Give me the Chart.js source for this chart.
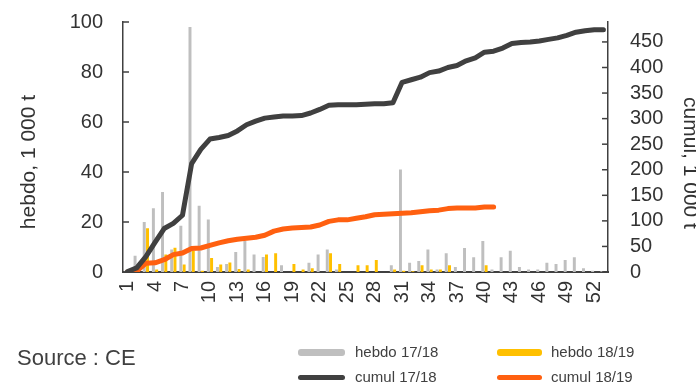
<!DOCTYPE html>
<html lang="fr">
  <head>
    <meta charset="UTF-8" />
    <title>hebdo / cumul</title>
    <script src="https://cdn.jsdelivr.net/npm/chart.js"></script>
    <style>
      html, body { margin: 0; padding: 0; background: #fff; overflow: hidden; }
      #wrap { position: relative; width: 696px; height: 382px; font-family: "Liberation Sans", Arial, sans-serif; color: #404040; }
      #wrap canvas { position: absolute; left: 0; top: 0; }
      .source { position: absolute; left: 17px; top: 346px; font-size: 22px; line-height: 24px; }
      .leg { position: absolute; font-size: 15px; line-height: 16px; }
      .sw { position: absolute; border-radius: 3px; }
    </style>
  </head>
  <body>
    <div id="wrap">
      <canvas id="chart" width="696" height="382"></canvas>
      <div class="source">Source : CE</div>
      <div class="sw" style="left:298px; top:349px; width:47px; height:7px; background:#bfbfbf"></div>
      <div class="leg" style="left:355px; top:344px">hebdo 17/18</div>
      <div class="sw" style="left:497px; top:349px; width:45px; height:7px; background:#ffc000"></div>
      <div class="leg" style="left:551px; top:344px">hebdo 18/19</div>
      <div class="sw" style="left:298px; top:375px; width:47px; height:5px; background:#404040"></div>
      <div class="leg" style="left:355px; top:369px">cumul 17/18</div>
      <div class="sw" style="left:497px; top:375px; width:45px; height:5px; background:#ff6010"></div>
      <div class="leg" style="left:551px; top:369px">cumul 18/19</div>
    </div>

    <script>
      // weeks of the campaign
      const weeks = [1, 2, 3, 4, 5, 6, 7, 8, 9, 10, 11, 12, 13, 14, 15, 16, 17, 18, 19, 20,
        21, 22, 23, 24, 25, 26, 27, 28, 29, 30, 31, 32, 33, 34, 35, 36, 37, 38, 39, 40,
        41, 42, 43, 44, 45, 46, 47, 48, 49, 50, 51, 52, 53];

      // weekly volumes, 1 000 t (left axis)
      const hebdo1718 = [0.5, 6.5, 20, 25.5, 32, 9, 18.5, 98, 26.5, 21, 2, 3.2, 8, 12.4, 7, 6,
        0, 2.7, 0, 0, 3.7, 7, 9, 1, 0, 0, 0, 0, 0, 2.7, 41, 3.7, 4.4, 9, 1, 7.5, 2, 9.6,
        5.9, 12.4, 1, 5.9, 8.5, 2, 1, 1, 3.7, 3.2, 4.8, 5.9, 1.5, 0.5, 0.3];
      const hebdo1819 = [0.5, 0.5, 17.5, 1, 7, 9.7, 3, 8.4, 0.5, 5.6, 3, 3.8, 1.2, 1, 0, 7,
        7.5, 0, 3.2, 1, 1.5, 0, 7.5, 3.2, 0, 2.7, 2.7, 4.8, 0, 1, 0.5, 0.3, 2.7, 1, 1, 2.7,
        0, 0, 0, 2.7, 0];

      // cumulated volumes, 1 000 t (right axis)
      const cumul1718 = [1, 8, 30, 58, 85, 95, 111, 212, 240, 260, 263, 267, 276, 288, 295,
        301, 303, 305, 305, 306, 311, 318, 326, 327, 327, 327, 328, 329, 329, 331, 371, 376,
        381, 390, 393, 400, 404, 413, 419, 430, 432, 438, 447, 449, 450, 452, 455, 458, 463,
        469, 472, 474, 474];
      const cumul1819 = [0, 2, 17, 18, 24, 34, 37, 46, 47, 52, 57, 61, 64, 66, 68, 72, 80,
        84, 86, 87, 88, 92, 99, 102, 102, 105, 108, 112, 113, 114, 115, 116, 118, 120, 121,
        124, 125, 125, 125, 127, 127];

      const leftTicks = [0, 20, 40, 60, 80, 100];
      const rightTicks = [0, 50, 100, 150, 200, 250, 300, 350, 400, 450];
      const leftTitle = "hebdo, 1 000 t";
      const rightTitle = "cumul, 1 000 t";

      const axisColor = "#404040";
      const family = "'Liberation Sans', Arial, sans-serif";
      const font = { family: family, size: 20 };

      // inward tick marks on both value axes + the two axis titles
      const axisExtras = {
        id: "axisExtras",
        afterDraw(chart) {
          const ctx = chart.ctx;
          const y = chart.scales.y, y1 = chart.scales.y1;
          ctx.save();
          ctx.strokeStyle = axisColor;
          ctx.lineWidth = 1.5;
          leftTicks.forEach(v => {
            const py = y.getPixelForValue(v);
            ctx.beginPath();
            ctx.moveTo(y.right, py);
            ctx.lineTo(y.right + 6, py);
            ctx.stroke();
          });
          rightTicks.forEach(v => {
            const py = y1.getPixelForValue(v);
            ctx.beginPath();
            ctx.moveTo(y1.left - 6, py);
            ctx.lineTo(y1.left, py);
            ctx.stroke();
          });

          ctx.fillStyle = "#333";
          ctx.font = "21px " + family;
          ctx.textAlign = "center";
          ctx.textBaseline = "middle";
          ctx.save();
          ctx.translate(29, 162);
          ctx.rotate(-Math.PI / 2);
          ctx.fillText(leftTitle, 0, 0);
          ctx.restore();
          ctx.save();
          ctx.translate(690, 163);
          ctx.rotate(Math.PI / 2);
          ctx.fillText(rightTitle, 0, 0);
          ctx.restore();
          ctx.restore();
        }
      };

      // fixed box sizes so the plot area sits where it does in the original
      function fixV(width) {
        return s => { s.width = width; s.paddingTop = 0; s.paddingBottom = 0; };
      }

      new Chart(document.getElementById("chart"), {
        data: {
          labels: weeks,
          datasets: [
            {
              type: "line",
              label: "cumul 17/18",
              data: cumul1718,
              yAxisID: "y1",
              borderColor: "#404040",
              borderWidth: 5,
              borderCapStyle: "round",
              borderJoinStyle: "round",
              pointRadius: 0,
              tension: 0,
              order: 0
            },
            {
              type: "line",
              label: "cumul 18/19",
              data: cumul1819,
              yAxisID: "y1",
              borderColor: "#ff6010",
              borderWidth: 5,
              borderCapStyle: "round",
              borderJoinStyle: "round",
              pointRadius: 0,
              tension: 0,
              order: 0
            },
            {
              type: "bar",
              label: "hebdo 17/18",
              data: hebdo1718,
              yAxisID: "y",
              backgroundColor: "#bfbfbf",
              categoryPercentage: 0.72,
              barPercentage: 0.9,
              order: 1
            },
            {
              type: "bar",
              label: "hebdo 18/19",
              data: hebdo1819,
              yAxisID: "y",
              backgroundColor: "#ffc000",
              categoryPercentage: 0.72,
              barPercentage: 0.9,
              order: 1
            }
          ]
        },
        options: {
          responsive: false,
          animation: false,
          layout: { padding: { top: 22, left: 0, right: 0, bottom: 0 } },
          plugins: {
            legend: { display: false },
            tooltip: { enabled: false }
          },
          scales: {
            x: {
              offset: true,
              grid: { display: false, drawTicks: false },
              border: { color: axisColor, width: 2 },
              ticks: {
                autoSkip: false,
                minRotation: 90,
                maxRotation: 90,
                padding: 9,
                color: "#333",
                font: font,
                callback: function (v, i) { return i % 3 === 0 ? weeks[i] : ""; }
              },
              afterFit: s => { s.height = 110; s.paddingLeft = 0; s.paddingRight = 0; }
            },
            y: {
              position: "left",
              min: 0,
              max: 100,
              grid: { display: false, drawTicks: false },
              border: { color: axisColor, width: 1.5 },
              afterBuildTicks: s => { s.ticks = leftTicks.map(v => ({ value: v })); },
              ticks: { autoSkip: false, padding: 20, color: "#333", font: font },
              afterFit: fixV(123)
            },
            y1: {
              position: "right",
              min: 0,
              max: 489,
              grid: { display: false, drawTicks: false },
              border: { color: axisColor, width: 1.5 },
              afterBuildTicks: s => { s.ticks = rightTicks.map(v => ({ value: v })); },
              ticks: { autoSkip: false, padding: 22, color: "#333", font: font },
              afterFit: fixV(88)
            }
          }
        },
        plugins: [axisExtras]
      });
    </script>
  </body>
</html>
